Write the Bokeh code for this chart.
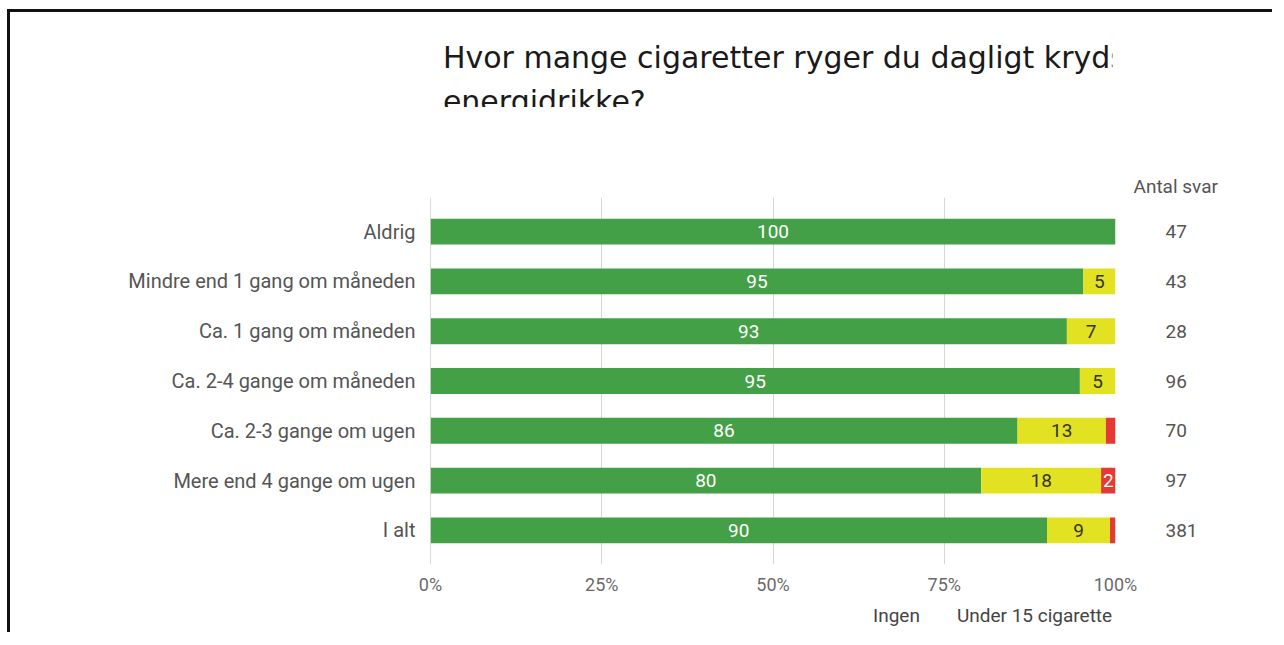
from bokeh.plotting import figure
from bokeh.layouts import column
from bokeh.models import (FactorRange, Range1d, ColumnDataSource, Legend, LegendItem,
                          FixedTicker, Span, CategoricalAxis, Title)
from bokeh.core.properties import value
from bokeh.embed import file_html
from bokeh.resources import INLINE

title_lines = ["Hvor mange cigaretter ryger du dagligt krydset med, hvor ofte drikker du",
               "energidrikke?"]
categories = ["Aldrig", "Mindre end 1 gang om måneden", "Ca. 1 gang om måneden",
              "Ca. 2-4 gange om måneden", "Ca. 2-3 gange om ugen",
              "Mere end 4 gange om ugen", "I alt"]
ingen = [100.0, 95.3, 92.9, 94.8, 85.7, 80.4, 90.0]
under15 = [0.0, 4.7, 7.1, 5.2, 12.9, 17.5, 9.2]
over15 = [0.0, 0.0, 0.0, 0.0, 1.4, 2.1, 0.8]
antal = [47, 43, 28, 96, 70, 97, 381]
series_names = ["Ingen", "Under 15 cigaretter om dagen", "Over 15 cigaretter om dagen"]
tick_values = [0, 25, 50, 75, 100]
tick_labels = ["0%", "25%", "50%", "75%", "100%"]
header = "Antal svar"

colors = ["#43a047", "#e2e222", "#e53935"]
label_colors = ["#ffffff", "#333333", "#ffffff"]
FONT = value("Roboto")
PAD = 0.053
W = 1265
BORDER = "3px solid #111"

# ---------------- title strip ----------------
p0 = figure(width=W, height=98, output_backend="svg", toolbar_location=None,
            x_range=Range1d(0, W), y_range=Range1d(98, 0), min_border=0,
            x_axis_location=None, y_axis_location=None)
p0.grid.visible = False
p0.outline_line_color = None
p0.styles = {"border-top": BORDER, "border-left": BORDER,
             "margin-top": "9px", "margin-left": "7px"}
p0.text(x=[23, 23], y=[45, 89], text=title_lines, text_align="left",
        text_baseline="alphabetic", text_font=value("DejaVu Sans"),
        text_font_size="30px", text_color="#1a1a1a")

# ---------------- main chart ----------------
src = ColumnDataSource(dict(cat=categories, ingen=ingen, under15=under15, over15=over15))

p = figure(frame_width=682, frame_height=367, output_backend="svg", toolbar_location=None,
           y_range=FactorRange(factors=list(reversed(categories)), range_padding=PAD),
           x_range=Range1d(0, 100),
           min_border_left=420, min_border_right=163, min_border_top=90, min_border_bottom=40)
p.extra_y_ranges = {"counts": FactorRange(factors=[str(a) for a in reversed(antal)],
                                          range_padding=PAD)}
p.styles = {"border-left": BORDER, "margin-left": "7px"}
p.outline_line_color = None
p.background_fill_color = "white"
p.border_fill_color = "white"
p.title.visible = False

p.hbar_stack(["ingen", "under15", "over15"], y="cat", height=0.52,
             color=colors, line_color=None, source=src)

# segment labels
seg_x, seg_y, seg_t, seg_c = [], [], [], []
for i, c in enumerate(categories):
    left = 0.0
    for vals, lc in zip([ingen, under15, over15], label_colors):
        v = vals[i]
        if v >= 2:
            seg_x.append(left + v / 2)
            seg_y.append(c)
            seg_t.append(str(int(round(v))))
            seg_c.append(lc)
        left += v
seg_src = ColumnDataSource(dict(x=seg_x, y=seg_y, t=seg_t, c=seg_c))
p.text(x="x", y="y", text="t", text_color="c", source=seg_src, text_align="center",
       text_baseline="middle", text_font=FONT, text_font_size="19px")

# grid & axes
p.ygrid.grid_line_color = None
p.xgrid.ticker = FixedTicker(ticks=tick_values)
p.xgrid.grid_line_color = "#d6d6d6"
p.add_layout(Span(location=0, dimension="height", line_color="#b5b5b5", line_width=1))

p.xaxis.ticker = FixedTicker(ticks=tick_values)
p.xaxis.major_label_overrides = {t: l for t, l in zip(tick_values, tick_labels)}
p.xaxis.axis_line_color = None
p.xaxis.major_tick_line_color = None
p.xaxis.minor_tick_line_color = None
p.xaxis.major_tick_out = 0
p.xaxis.minor_tick_out = 0
p.xaxis.major_label_standoff = 9
p.xaxis.major_label_text_font = "Roboto"
p.xaxis.major_label_text_font_size = "18px"
p.xaxis.major_label_text_color = "#6a6a6a"

p.yaxis.axis_line_color = None
p.yaxis.major_tick_line_color = None
p.yaxis.minor_tick_line_color = None
p.yaxis.major_tick_out = 0
p.yaxis.minor_tick_out = 0
p.yaxis.major_label_standoff = 15
p.yaxis.major_label_text_font = "Roboto"
p.yaxis.major_label_text_font_size = "20px"
p.yaxis.major_label_text_color = "#555555"

# counts column as a right-hand categorical axis
raxis = CategoricalAxis(y_range_name="counts", axis_line_color=None,
                        major_tick_line_color=None, minor_tick_line_color=None,
                        major_tick_out=0, minor_tick_out=0,
                        major_label_standoff=50, major_label_text_font="Roboto",
                        major_label_text_font_size="19px", major_label_text_color="#555555")
p.add_layout(raxis, "right")

# header above the counts column
p.add_layout(Title(text=header, align="left", offset=703, standoff=0,
                   text_font="Roboto", text_font_size="19px", text_font_style="normal",
                   text_color="#555555"), "above")

# ---------------- legend strip ----------------
p2 = figure(width=W, height=28, output_backend="svg", toolbar_location=None,
            x_range=Range1d(0, 1), y_range=Range1d(0, 1), min_border=0,
            x_axis_location=None, y_axis_location=None)
p2.grid.visible = False
p2.outline_line_color = None
p2.styles = {"border-left": BORDER, "margin-left": "7px"}
legend_renderers = [p2.quad(left=[], right=[], top=[], bottom=[], fill_color=c, line_color=None)
                    for c in colors]
legend = Legend(items=[LegendItem(label=n, renderers=[r])
                       for n, r in zip(series_names, legend_renderers)],
                location=(419, 5), orientation="horizontal", margin=0, padding=0,
                glyph_width=19, glyph_height=19, label_standoff=5, spacing=13,
                label_text_font="Roboto", label_text_font_size="19px",
                label_text_color="#444444", border_line_color=None,
                background_fill_alpha=0)
p2.add_layout(legend)

layout = column(p0, p, p2, spacing=0)
open("out.html", "w").write(file_html(layout, INLINE))
